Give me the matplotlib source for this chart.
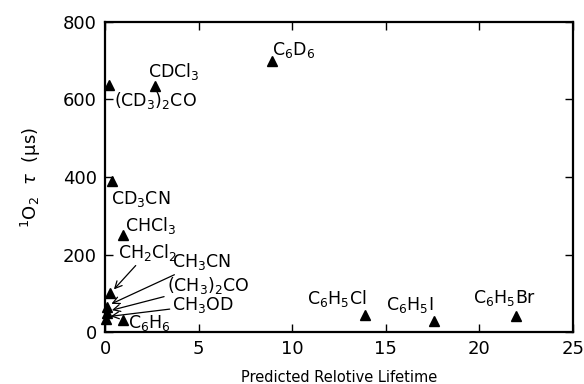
import matplotlib
matplotlib.use('Agg')
import matplotlib.pyplot as plt

# solvent points: predicted relative lifetime vs measured 1O2 lifetime (us)
names = ['(CD3)2CO', 'CDCl3', 'C6D6', 'CD3CN', 'CHCl3', 'CH2Cl2',
         'CH3CN', '(CH3)2CO', 'CH3OD', 'C6H6', 'C6H5Cl', 'C6H5I', 'C6H5Br']
x_pred = [0.2, 2.65, 8.9, 0.37, 0.96, 0.27, 0.1, 0.12, 0.05, 0.96, 13.9, 17.6, 21.95]
y_tau = [637, 635, 699, 390, 250, 100, 65, 50, 35, 31, 44, 28, 41]

labels = [r'$\mathrm{(CD_3)_2CO}$', r'$\mathrm{CDCl_3}$', r'$\mathrm{C_6D_6}$',
          r'$\mathrm{CD_3CN}$', r'$\mathrm{CHCl_3}$', r'$\mathrm{CH_2Cl_2}$',
          r'$\mathrm{CH_3CN}$', r'$\mathrm{(CH_3)_2CO}$', r'$\mathrm{CH_3OD}$',
          r'$\mathrm{C_6H_6}$', r'$\mathrm{C_6H_5Cl}$', r'$\mathrm{C_6H_5I}$',
          r'$\mathrm{C_6H_5Br}$']
label_x = [0.45, 2.3, 8.9, 0.3, 1.07, 0.7, 3.6, 3.3, 3.6, 1.2, 10.8, 15.0, 19.65]
label_y = [598, 671, 728, 343, 276, 206, 181, 121, 70, 23, 88, 70, 88]
arrowed = ['CH2Cl2', 'CH3CN', '(CH3)2CO', 'CH3OD']

plt.rcParams['mathtext.fontset'] = 'dejavusans'
fig = plt.figure(figsize=(5.84, 3.84), dpi=100)
ax = fig.add_axes([0.18, 0.135, 0.801, 0.808])

ax.plot(x_pred, y_tau, linestyle='none', marker='^', color='black', markersize=7, clip_on=False)

for i, n in enumerate(names):
    if n in arrowed:
        ax.annotate(labels[i], xy=(x_pred[i] + 0.1, y_tau[i] + 5), xytext=(label_x[i], label_y[i]),
                    fontsize=12.5, va='center', ha='left',
                    arrowprops=dict(arrowstyle='->', color='black', lw=0.9, shrinkA=0, shrinkB=2))
    else:
        ax.text(label_x[i], label_y[i], labels[i], fontsize=12.5, va='center', ha='left')

ax.set_xlim(0, 25)
ax.set_ylim(0, 800)
ax.set_xticks([0, 5, 10, 15, 20, 25])
ax.set_yticks([0, 200, 400, 600, 800])
ax.tick_params(direction='in', length=6, width=1, labelsize=13, top=True, right=True, pad=6)
for s in ax.spines.values():
    s.set_linewidth(1.6)

ax.set_xlabel('Predicted Relotive Lifetime', fontsize=10.5, labelpad=8)
ax.set_ylabel(r'$^1\mathrm{O_2}\ \ \tau\ \ (\mathrm{\mu s})$', fontsize=13, labelpad=14)

plt.savefig('out.png', dpi=100)
